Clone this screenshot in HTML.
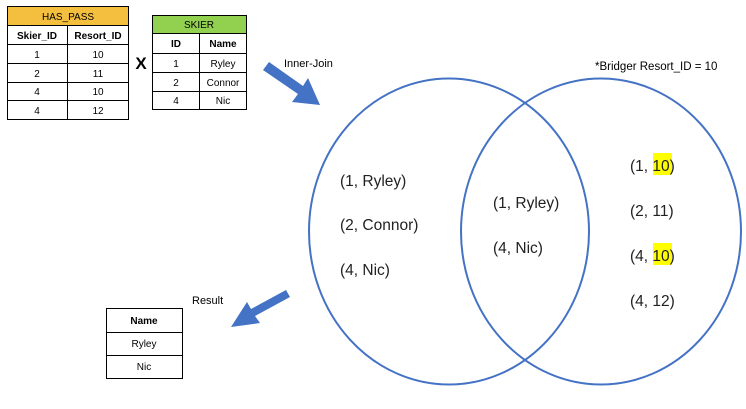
<!DOCTYPE html>
<html><head><meta charset="utf-8"><style>
body{margin:0;width:746px;height:404px;background:#fff;overflow:hidden}
svg text{font-family:"Liberation Sans",sans-serif}
</style></head><body>
<svg width="746" height="404" viewBox="0 0 746 404">
<defs><style>.c{fill:none;stroke:#000;stroke-width:1}</style></defs>
<!-- HAS_PASS table -->
<g font-size="10" text-anchor="middle">
<rect x="7.5" y="6.5" width="121" height="19" fill="#F4BF3F" stroke="#000"/>
<text x="68" y="20">HAS_PASS</text>
<rect x="7.5" y="25.5" width="121" height="94" fill="#fff" stroke="#000"/>
<line x1="67.5" y1="25.5" x2="67.5" y2="119.5" class="c"/>
<line x1="7.5" y1="44.5" x2="128.5" y2="44.5" class="c"/>
<line x1="7.5" y1="63.5" x2="128.5" y2="63.5" class="c"/>
<line x1="7.5" y1="82.5" x2="128.5" y2="82.5" class="c"/>
<line x1="7.5" y1="100.5" x2="128.5" y2="100.5" class="c"/>
<text x="37" y="39" font-weight="bold">Skier_ID</text><text x="98" y="39" font-weight="bold">Resort_ID</text>
<text x="37" y="58">1</text><text x="98" y="58">10</text>
<text x="37" y="77">2</text><text x="98" y="77">11</text>
<text x="37" y="95">4</text><text x="98" y="95">10</text>
<text x="37" y="114">4</text><text x="98" y="114">12</text>
</g>
<text x="141" y="69" font-size="17" font-weight="bold" text-anchor="middle">X</text>
<!-- SKIER table -->
<g font-size="10" text-anchor="middle">
<rect x="152.5" y="15.5" width="94" height="18" fill="#92D050" stroke="#000"/>
<text x="199" y="28">SKIER</text>
<rect x="152.5" y="33.5" width="94" height="76" fill="#fff" stroke="#000"/>
<line x1="199.5" y1="33.5" x2="199.5" y2="109.5" class="c"/>
<line x1="152.5" y1="53.5" x2="246.5" y2="53.5" class="c"/>
<line x1="152.5" y1="72.5" x2="246.5" y2="72.5" class="c"/>
<line x1="152.5" y1="91.5" x2="246.5" y2="91.5" class="c"/>
<text x="176" y="47" font-weight="bold">ID</text><text x="223" y="47" font-weight="bold">Name</text>
<text x="176" y="67">1</text><text x="223" y="67">Ryley</text>
<text x="176" y="86">2</text><text x="223" y="86">Connor</text>
<text x="176" y="104">4</text><text x="223" y="104">Nic</text>
</g>
<!-- arrows -->
<g>
<polygon points="263,70 269,62 303,86 308,78 320,105 292,102 298,94" fill="#4472C4"/>
</g>
<text x="284" y="67" font-size="11">Inner-Join</text>
<g>
<polygon points="290,297 286,290 251,309 247,302 231,327 260,323 255,316" fill="#4472C4"/>
</g>
<text x="192" y="304" font-size="11">Result</text>
<!-- result table -->
<g font-size="10" text-anchor="middle">
<rect x="106.5" y="308.5" width="76" height="70" fill="#fff" stroke="#000"/>
<line x1="106.5" y1="332.5" x2="182.5" y2="332.5" class="c"/>
<line x1="106.5" y1="355.5" x2="182.5" y2="355.5" class="c"/>
<text x="144" y="324" font-weight="bold">Name</text>
<text x="144" y="347">Ryley</text>
<text x="144" y="370">Nic</text>
</g>
<!-- venn -->
<ellipse cx="449" cy="231.5" rx="140" ry="153" fill="none" stroke="#4472C4" stroke-width="2"/>
<ellipse cx="601" cy="231.5" rx="140" ry="153" fill="none" stroke="#4472C4" stroke-width="2"/>
<text x="595" y="70" font-size="11.5">*Bridger Resort_ID = 10</text>
<g font-size="15.5" fill="#222">
<text x="340" y="186">(1, Ryley)</text>
<text x="340" y="230">(2, Connor)</text>
<text x="340" y="275">(4, Nic)</text>
<text x="493" y="208">(1, Ryley)</text>
<text x="493" y="253">(4, Nic)</text>
<rect x="653" y="153" width="19" height="22" fill="#FFFF00"/>
<rect x="653" y="243" width="19" height="22" fill="#FFFF00"/>
<text x="630" y="171">(1, 10)</text>
<text x="630" y="216">(2, 11)</text>
<text x="630" y="261">(4, 10)</text>
<text x="630" y="306">(4, 12)</text>
</g>
</svg>
</body></html>
